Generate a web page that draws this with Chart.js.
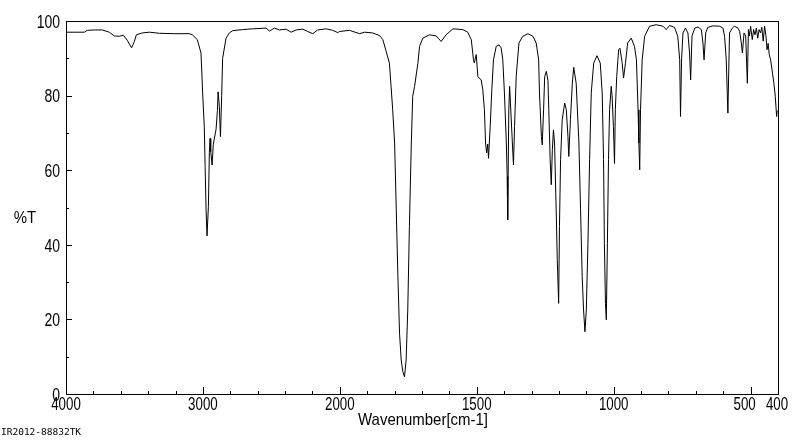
<!DOCTYPE html>
<html>
<head>
<meta charset="utf-8">
<title>IR spectrum</title>
<script src="https://cdn.jsdelivr.net/npm/chart.js@4.4.0/dist/chart.umd.min.js"></script>
<style>
  html, body { margin: 0; padding: 0; background: #fff; }
  #wrap { width: 800px; height: 441px; position: relative; }
</style>
</head>
<body>
<div id="wrap"><canvas id="irChart" width="800" height="441"></canvas></div>
<script>
// IR spectrum (%T vs wavenumber), x axis is stretched x2 below 2000 cm-1

// Spectrum data
const wavenumbers = [
    4000, 3866, 3844, 3793, 3735, 3684, 3647, 3611, 3581, 3552, 3521, 3501, 3486, 3443, 3391,
    3318, 3209, 3099, 3077, 3041, 3014, 3002, 2990, 2984, 2977, 2970, 2960, 2953, 2948, 2943,
    2933, 2924, 2904, 2894, 2889, 2880, 2872, 2863, 2856, 2831, 2807, 2783, 2710, 2637, 2539,
    2514, 2478, 2441, 2392, 2356, 2319, 2271, 2235, 2198, 2162, 2100, 2052, 2016, 2000,
    1965, 1928, 1910, 1880, 1855, 1843, 1831, 1819, 1813, 1807, 1800, 1794, 1788, 1782, 1776,
    1770, 1764, 1758, 1752, 1746, 1739, 1734, 1727, 1715, 1709, 1697, 1673, 1648, 1630, 1612,
    1587, 1551, 1533, 1520, 1512, 1509, 1502, 1496, 1484, 1478, 1472, 1468, 1464, 1460, 1457,
    1451, 1445, 1439, 1429, 1419, 1411, 1405, 1399, 1392, 1389, 1387, 1383, 1380, 1377, 1370,
    1366, 1362, 1356, 1346, 1332, 1313, 1295, 1283, 1274, 1271, 1264, 1261, 1256, 1252, 1246,
    1240, 1237, 1232, 1228, 1224, 1220, 1216, 1210, 1206, 1201, 1198, 1194, 1188, 1179, 1173,
    1167, 1164, 1158, 1151, 1146, 1137, 1127, 1121, 1115, 1110, 1105, 1100, 1094, 1088, 1082,
    1073, 1061, 1049, 1042, 1037, 1034, 1030, 1027, 1023, 1019, 1015, 1009, 1006, 1001, 997,
    994, 989, 982, 977, 969, 964, 957, 949, 936, 924, 917, 911, 908, 905, 902,
    896, 887, 869, 845, 820, 808, 796, 778, 766, 759, 756, 752, 747, 738, 729,
    723, 719, 714, 704, 692, 680, 674, 670, 664, 656, 637, 613, 601, 595, 589,
    583, 577, 567, 559, 546, 540, 534, 530, 524, 518, 512, 508, 504, 500, 494,
    489, 484, 479, 474, 469, 464, 459, 454, 449, 444, 440, 436, 432, 427, 420,
    415, 410, 405, 403
];

const transmittance = [
    97.0, 97.0, 97.5, 97.6, 97.6, 97.0, 96.0, 95.9, 96.2, 94.8, 92.8, 94.5, 96.3, 96.8, 97.0,
    96.7, 96.6, 96.6, 96.3, 95.0, 91.4, 80.7, 71.7, 61.0, 49.4, 42.4, 50.3, 64.7, 68.5, 65.0,
    61.4, 67.0, 71.0, 76.0, 81.0, 77.0, 69.0, 80.0, 90.0, 95.4, 96.8, 97.4, 97.7, 97.9, 98.1,
    97.3, 98.1, 97.6, 97.8, 97.0, 97.6, 97.8, 97.2, 96.6, 97.6, 97.9, 97.5, 96.9, 97.2,
    97.5, 96.6, 97.0, 96.8, 96.1, 95.0, 91.9, 88.7, 82.5, 76.2, 67.3, 49.4, 31.5, 16.3, 9.1,
    6.0, 4.6, 9.1, 22.5, 44.9, 67.3, 79.8, 82.5, 88.7, 93.2, 95.4, 96.3, 96.0, 94.5, 96.3,
    97.9, 97.7, 97.0, 95.0, 89.6, 88.8, 91.0, 85.1, 84.2, 81.6, 76.2, 67.3, 64.6, 67.0, 63.2,
    71.7, 81.6, 89.6, 93.2, 93.6, 92.8, 89.6, 80.7, 67.3, 58.3, 46.7, 76.2, 82.5, 78.0, 67.3,
    61.4, 71.7, 85.1, 94.1, 95.9, 96.6, 95.9, 94.1, 89.6, 80.7, 69.0, 66.8, 76.2, 85.1, 86.5,
    84.0, 76.2, 62.8, 56.1, 65.5, 70.8, 67.3, 49.4, 36.0, 24.3, 44.9, 62.8, 73.5, 78.0, 76.2,
    69.0, 63.7, 73.5, 83.3, 87.6, 83.3, 67.3, 49.4, 31.5, 22.5, 16.7, 22.5, 40.4, 62.8, 80.7,
    88.7, 90.7, 88.7, 80.7, 62.8, 40.4, 24.3, 19.9, 40.4, 62.8, 76.2, 82.5, 80.0, 71.7, 61.8,
    76.2, 85.1, 92.3, 92.7, 88.7, 84.7, 88.7, 94.1, 95.4, 93.2, 89.6, 76.2, 67.3, 60.1, 76.2,
    89.6, 95.9, 98.6, 99.0, 98.6, 97.7, 98.8, 98.3, 95.9, 89.6, 74.4, 90.0, 96.8, 98.1, 96.8,
    91.4, 84.2, 96.0, 98.1, 98.4, 97.7, 94.1, 89.6, 96.8, 98.3, 98.7, 98.6, 98.1, 95.9, 89.6,
    75.3, 96.8, 98.1, 98.6, 98.1, 97.2, 94.1, 91.4, 96.8, 96.0, 83.3, 97.7, 96.0, 98.6, 95.0,
    97.7, 96.3, 98.1, 95.4, 97.7, 96.8, 98.3, 94.6, 98.6, 96.0, 92.3, 94.0, 91.0, 89.6, 86.0,
    83.3, 79.8, 74.4, 76.0
];

// Axis labels
const xTickLabels = [4000, 3000, 2000, 1500, 1000, 500, 400];
const yTickLabels = [0, 20, 40, 60, 80, 100];

// Convert a wavenumber into the stretched axis coordinate
function toAxis(wn) {
    return wn >= 2000 ? 4000 - wn : 2000 + 2 * (2000 - wn);
}

// Minor tick positions: every 200 above 2000, every 100 below
function minorTicks() {
    const ticks = [];
    for (let w = 3800; w > 2000; w -= 200) ticks.push(w);
    for (let w = 1900; w > 400; w -= 100) ticks.push(w);
    return ticks.filter(w => !xTickLabels.includes(w));
}

// The original labels use a tall, narrow face: squeeze Liberation Sans sideways
function narrowText(ctx, text, x, y, size, align, squeeze) {
    ctx.save();
    ctx.font = size + 'px "Liberation Sans", Arial, sans-serif';
    ctx.textAlign = align;
    ctx.translate(x, y);
    ctx.scale(squeeze, 1);
    ctx.fillText(text, 0, 0);
    ctx.restore();
}

// Frame, inward ticks and text, placed with the chart's own scales
const irAxesPlugin = {
    id: 'irAxes',
    afterDraw(chart) {
        const ctx = chart.ctx;
        const area = chart.chartArea;
        const xs = chart.scales.x;
        const ys = chart.scales.y;

        ctx.save();
        ctx.strokeStyle = '#000';
        ctx.fillStyle = '#000';
        ctx.lineWidth = 1;

        // frame
        ctx.strokeRect(area.left + 0.5, area.top + 0.5, area.right - area.left, area.bottom - area.top);

        // x ticks
        ctx.beginPath();
        minorTicks().forEach(w => {
            const px = Math.round(xs.getPixelForValue(toAxis(w))) + 0.5;
            ctx.moveTo(px, area.bottom);
            ctx.lineTo(px, area.bottom - 3);
        });
        xTickLabels.forEach(w => {
            const px = Math.round(xs.getPixelForValue(toAxis(w))) + 0.5;
            ctx.moveTo(px, area.bottom);
            ctx.lineTo(px, area.bottom - 7);
        });

        // y ticks
        for (let v = 10; v < 100; v += 10) {
            const py = Math.round(ys.getPixelForValue(v)) + 0.5;
            ctx.moveTo(area.left, py);
            ctx.lineTo(area.left + (v % 20 === 0 ? 6 : 3), py);
        }
        ctx.stroke();

        // tick labels
        ctx.textBaseline = 'middle';
        yTickLabels.forEach(v => {
            narrowText(ctx, String(v), area.left - 6, ys.getPixelForValue(v) + 2, 17.5, 'right', 0.8);
        });

        ctx.textBaseline = 'top';
        xTickLabels.forEach(w => {
            let px = xs.getPixelForValue(toAxis(w));
            // 500 and 400 sit close together, so they are nudged apart
            if (w === 500) px -= 6;
            if (w === 400) px -= 1;
            narrowText(ctx, String(w), px, area.bottom + 2, 18.5, 'center', 0.72);
        });

        // axis titles
        ctx.textBaseline = 'middle';
        narrowText(ctx, 'Wavenumber[cm-1]', 423, 420, 17, 'center', 0.88);
        narrowText(ctx, '%T', 25, 218, 17, 'center', 0.88);

        // sample id
        ctx.font = '9.5px "DejaVu Sans Mono", monospace';
        ctx.textAlign = 'left';
        ctx.fillText('IR2012-88832TK', 1, 433);

        ctx.restore();
    }
};

const spectrumPoints = wavenumbers.map((w, i) => ({ x: toAxis(w), y: transmittance[i] }));

new Chart(document.getElementById('irChart'), {
    type: 'line',
    data: {
        datasets: [{
            data: spectrumPoints,
            borderColor: '#000',
            borderWidth: 1,
            pointRadius: 0,
            tension: 0,
            fill: false
        }]
    },
    options: {
        responsive: false,
        animation: false,
        devicePixelRatio: 1,
        layout: { padding: { left: 66, top: 21, right: 22, bottom: 47 } },
        plugins: {
            legend: { display: false },
            tooltip: { enabled: false }
        },
        scales: {
            x: { type: 'linear', min: 0, max: 5200, display: false },
            y: { min: 0, max: 100, display: false }
        }
    },
    plugins: [irAxesPlugin]
});
</script>
</body>
</html>
